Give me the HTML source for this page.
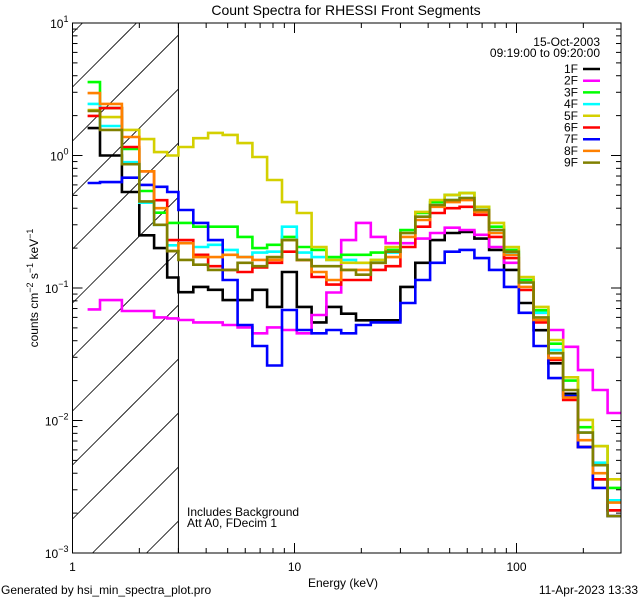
<!DOCTYPE html>
<html><head><meta charset="utf-8"><style>
html,body{margin:0;padding:0;background:#fff;width:640px;height:600px;overflow:hidden;}
svg{display:block;font-family:"Liberation Sans",sans-serif;overflow:hidden;}
</style></head><body>
<svg id="chart" width="640" height="600" viewBox="0 0 640 600" xmlns="http://www.w3.org/2000/svg">
<rect width="640" height="600" fill="#fff"/>
<text x="346" y="15" font-size="14" text-anchor="middle">Count Spectra for RHESSI Front Segments</text>
<g id="hatch"></g>
<g id="series"></g>
<g id="axes"></g>
<g id="legend" font-size="12" text-anchor="end">
<text x="600" y="46">15-Oct-2003</text>
<text x="600" y="57">09:19:00 to 09:20:00</text>
</g>
<text x="187" y="516" font-size="12">Includes Background</text>
<text x="187" y="527" font-size="12">Att A0, FDecim 1</text>
<text x="343" y="587" font-size="12" text-anchor="middle">Energy (keV)</text>
<text transform="translate(38,288) rotate(-90)" font-size="12" text-anchor="middle">counts cm<tspan dy="-5" font-size="9">−2</tspan><tspan dy="5"> s</tspan><tspan dy="-5" font-size="9">−1</tspan><tspan dy="5"> keV</tspan><tspan dy="-5" font-size="9">−1</tspan></text>
<text x="1" y="594" font-size="12">Generated by hsi_min_spectra_plot.pro</text>
<text x="638" y="594" font-size="12" text-anchor="end">11-Apr-2023 13:33</text>
</svg>
<script>
const energyEdges = [1.17,1.33,1.67,2.0,2.33,2.67,3.0,3.50,4.08,4.75,5.54,6.46,7.53,8.78,10.24,11.94,13.92,16.23,18.92,22.06,25.72,30.0,35.0,40.8,47.5,55.4,64.6,75.3,87.8,102.4,119.4,139.2,162.3,189.2,220.6,257.2,295];
const seriesNames = ["1F","2F","3F","4F","5F","6F","7F","8F","9F"];
const seriesColors = ["#000000","#ff00ff","#00ff00","#00ffff","#d4d000","#ff0000","#0000ff","#ff8000","#808000"];
const s1F = [1.61,1.0,0.53,0.25,0.2,0.12,0.093,0.102,0.097,0.081,0.081,0.097,0.072,0.132,0.072,0.055,0.072,0.064,0.057,0.057,0.057,0.102,0.155,0.23,0.26,0.265,0.236,0.194,0.137,0.077,0.048,0.027,0.0159,0.0063,0.0036,0.0021];
const s2F = [0.069,0.081,0.067,0.067,0.060,0.059,0.0573,0.055,0.055,0.0526,0.0504,0.0455,0.0504,0.0482,0.0455,0.0625,0.0925,0.23,0.31,0.243,0.218,0.218,0.236,0.26,0.285,0.274,0.252,0.204,0.155,0.115,0.065,0.0482,0.036,0.024,0.017,0.0114];
const s3F = [3.58,2.28,1.12,0.54,0.37,0.31,0.31,0.29,0.29,0.29,0.243,0.2,0.212,0.243,0.204,0.194,0.171,0.178,0.178,0.185,0.194,0.274,0.368,0.445,0.504,0.52,0.41,0.29,0.194,0.115,0.068,0.038,0.020,0.0089,0.0064,0.0031];
const s4F = [2.45,1.67,0.89,0.44,0.30,0.21,0.218,0.204,0.212,0.194,0.171,0.185,0.188,0.29,0.185,0.171,0.163,0.163,0.155,0.163,0.185,0.26,0.345,0.423,0.461,0.478,0.388,0.274,0.185,0.11,0.065,0.034,0.0153,0.0081,0.0048,0.0025];
const s5F = [2.2,1.95,1.56,1.33,1.06,1.0,1.16,1.35,1.48,1.43,1.24,0.975,0.653,0.445,0.368,0.204,0.163,0.155,0.155,0.163,0.204,0.26,0.375,0.461,0.504,0.52,0.41,0.31,0.204,0.121,0.072,0.0405,0.0212,0.0101,0.0064,0.0036];
const s6F = [1.99,2.28,1.16,0.76,0.46,0.23,0.23,0.178,0.146,0.137,0.132,0.143,0.155,0.188,0.163,0.121,0.106,0.115,0.115,0.137,0.146,0.204,0.29,0.368,0.40,0.41,0.357,0.243,0.168,0.0966,0.055,0.0286,0.0143,0.0063,0.0036,0.0021];
const s7F = [0.62,0.63,0.68,0.60,0.58,0.53,0.388,0.31,0.23,0.115,0.0526,0.0365,0.026,0.0682,0.0482,0.0455,0.0482,0.0455,0.0526,0.055,0.055,0.077,0.115,0.155,0.188,0.194,0.168,0.137,0.102,0.065,0.0365,0.0209,0.0153,0.0063,0.0031,0.0019];
const s8F = [2.96,2.45,1.38,0.76,0.40,0.19,0.218,0.171,0.171,0.178,0.171,0.163,0.163,0.23,0.163,0.132,0.115,0.137,0.137,0.155,0.171,0.243,0.326,0.41,0.445,0.461,0.375,0.26,0.178,0.102,0.0573,0.0296,0.0149,0.0071,0.004,0.0024];
const s9F = [2.17,1.56,0.86,0.45,0.30,0.19,0.163,0.15,0.137,0.137,0.155,0.146,0.171,0.23,0.163,0.146,0.146,0.137,0.126,0.155,0.188,0.26,0.345,0.423,0.461,0.478,0.388,0.274,0.188,0.11,0.06,0.0322,0.017,0.0081,0.0046,0.0019];
const xTickLabels = ["1","10","100"];
const yTickExps = ["1","0","−1","−2","−3"];

const seriesValues = [s1F,s2F,s3F,s4F,s5F,s6F,s7F,s8F,s9F];
const NS = "http://www.w3.org/2000/svg";
const L = 72.5, R = 621, T = 23, B = 553;
const xMax = Math.pow(10,(R-L)/222);
function X(e){ return L + 222*Math.log10(e); }
function Y(v){ return T + (B-T)*(1-Math.log10(v))/4; }
function mk(tag, attrs, parent){ const el=document.createElementNS(NS,tag); for(const k in attrs) el.setAttribute(k,attrs[k]); parent.appendChild(el); return el; }
const svg = document.getElementById('chart');
const defs = mk('defs',{},svg);
const cp = mk('clipPath',{id:'plotclip'},defs);
mk('rect',{x:L,y:T,width:R-L,height:B-T},cp);

// hatch lines clipped analytically: y = c - (x - L)
const hg = document.getElementById('hatch');
const HX = X(3);
for(let c=87-54*2; c<B+(HX-L); c+=54){
  let x1 = L, y1 = c;
  if(y1 > B){ x1 = L + (y1 - B); y1 = B; }
  let x2 = HX, y2 = c - (HX - L);
  if(y2 < T){ x2 = L + (c - T); y2 = T; }
  if(x1 >= x2 || y1 < T) continue;
  const ln = mk('line',{x1:x1,y1:y1,x2:x2,y2:y2,stroke:'#000','stroke-width':0.8},hg);
  
  
}
const bl = mk('line',{x1:HX,y1:T,x2:HX,y2:B,stroke:'#000','stroke-width':1},hg);



const sg = document.getElementById('series');
sg.setAttribute('clip-path','url(#plotclip)');
seriesValues.forEach((vals,i)=>{
  let d = 'M'+X(energyEdges[0]).toFixed(1)+','+Y(vals[0]).toFixed(1);
  for(let j=0;j<vals.length;j++){
    if(j>0) d += 'V'+Y(vals[j]).toFixed(1);
    d += 'H'+X(energyEdges[j+1]).toFixed(1);
  }
  const p = mk('path',{d:d,fill:'none',stroke:seriesColors[i],'stroke-width':2.6,'stroke-linejoin':'miter'},sg);
  
  
});

const ag = document.getElementById('axes');
const box = mk('rect',{x:L,y:T,width:R-L,height:B-T,fill:'none',stroke:'#000','stroke-width':1},ag);


for(let dec=0; dec<3; dec++){
  for(let m=1;m<10;m++){
    const e = m*Math.pow(10,dec);
    if(e>xMax) break;
    const x = X(e), len = m===1?10:5;
    mk('line',{x1:x,y1:B,x2:x,y2:B-len,stroke:'#000','stroke-width':1},ag);
    mk('line',{x1:x,y1:T,x2:x,y2:T+len,stroke:'#000','stroke-width':1},ag);
  }
}
xTickLabels.forEach(lab=>{
  const t = mk('text',{x:X(parseFloat(lab)),y:B+18,'font-size':12,'text-anchor':'middle'},ag);
  t.textContent = lab;
  
  
});
for(let dec=-3; dec<1; dec++){
  for(let m=1;m<10;m++){
    const v = m*Math.pow(10,dec);
    const y = Y(v), len = m===1?10:5;
    mk('line',{x1:L,y1:y,x2:L+len,y2:y,stroke:'#000','stroke-width':1},ag);
    mk('line',{x1:R,y1:y,x2:R-len,y2:y,stroke:'#000','stroke-width':1},ag);
  }
}
yTickExps.forEach(ex=>{
  const v = Math.pow(10, parseFloat(ex.replace('−','-')));
  const t = mk('text',{x:L-4,y:Y(v)+5,'font-size':12,'text-anchor':'end'},ag);
  t.innerHTML = '10<tspan dy="-6" font-size="9">'+ex+'</tspan>';
  
  
});

const lg = document.getElementById('legend');
seriesNames.forEach((n,i)=>{
  const y = 69 + i*11.7;
  const t = mk('text',{x:578,y:y+4},lg);
  t.textContent = n;
  
  
  const ln = mk('line',{x1:583,y1:y,x2:600,y2:y,stroke:seriesColors[i],'stroke-width':2.5},lg);
  
  
});
</script>
</body></html>
